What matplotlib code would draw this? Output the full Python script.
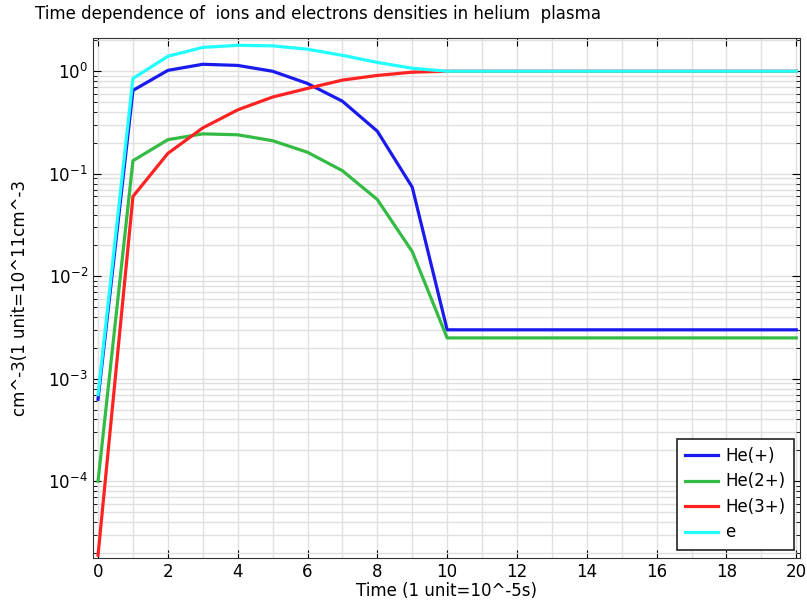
import numpy as np
import matplotlib.pyplot as plt
from matplotlib.ticker import LogLocator, MultipleLocator, NullFormatter

# time steps (1 unit = 1e-5 s)
t = np.arange(0, 21)

# densities (1 unit = 1e11 cm^-3)
he1 = [6.3e-4, 0.65, 1.02, 1.17, 1.14, 1.0, 0.76, 0.51, 0.26, 0.074] + [0.003] * 11
he2 = [1.0e-4, 0.134, 0.215, 0.245, 0.24, 0.21, 0.162, 0.107, 0.056, 0.0174] + [0.0025] * 11
he3 = [1.9e-5, 0.06, 0.158, 0.28, 0.42, 0.56, 0.68, 0.82, 0.91, 0.98] + [1.0] * 11
elec = [7.0e-4, 0.85, 1.4, 1.71, 1.79, 1.77, 1.64, 1.43, 1.22, 1.07] + [1.0] * 11

plt.rcParams['font.family'] = ['DejaVu Sans']

fig = plt.figure(figsize=(8.07, 6.03), dpi=100)
ax = fig.add_axes([0.115, 0.0746, 0.876, 0.862])

lw = 2.3
ax.plot(t, he1, color='#1a1aee', lw=lw, label='He(+)')
ax.plot(t, he2, color='#33bb44', lw=lw, label='He(2+)')
ax.plot(t, he3, color='#ff2222', lw=lw, label='He(3+)')
ax.plot(t, elec, color='#22ffff', lw=lw, label='e')

ax.set_yscale('log')
ax.set_xlim(-0.15, 20.1)
ax.set_ylim(1.78e-5, 2.1)

ax.xaxis.set_major_locator(MultipleLocator(2))
ax.xaxis.set_minor_locator(MultipleLocator(1))
ax.yaxis.set_major_locator(LogLocator(base=10, numticks=10))
ax.yaxis.set_minor_locator(LogLocator(base=10, subs=np.arange(2, 10), numticks=20))
ax.yaxis.set_minor_formatter(NullFormatter())

ax.grid(True, which='both', color='#e0e0e0', lw=1)
ax.set_axisbelow(True)
ax.tick_params(which='both', direction='in', top=True, right=True, labelsize=12)
ax.tick_params(which='major', length=6)
ax.tick_params(which='minor', length=3)
ax.tick_params(axis='x', which='minor', top=False, bottom=False)
for s in ax.spines.values():
    s.set_color('#333333')

ax.set_xlabel('Time (1 unit=10^-5s)', fontsize=12, labelpad=1)
ax.set_ylabel('cm^-3(1 unit=10^11cm^-3', fontsize=12, labelpad=14)
fig.text(0.043, 0.976, 'Time dependence of  ions and electrons densities in helium  plasma',
         fontsize=12, ha='left', va='center')

leg = ax.legend(loc='lower right', fontsize=12, fancybox=False, framealpha=1,
                edgecolor='#222222', handlelength=2.0, handletextpad=0.4,
                borderpad=0.5, labelspacing=0.45, bbox_to_anchor=(1.003, 0.0))
leg.get_frame().set_linewidth(1.2)

fig.savefig('out.png', dpi=100)
